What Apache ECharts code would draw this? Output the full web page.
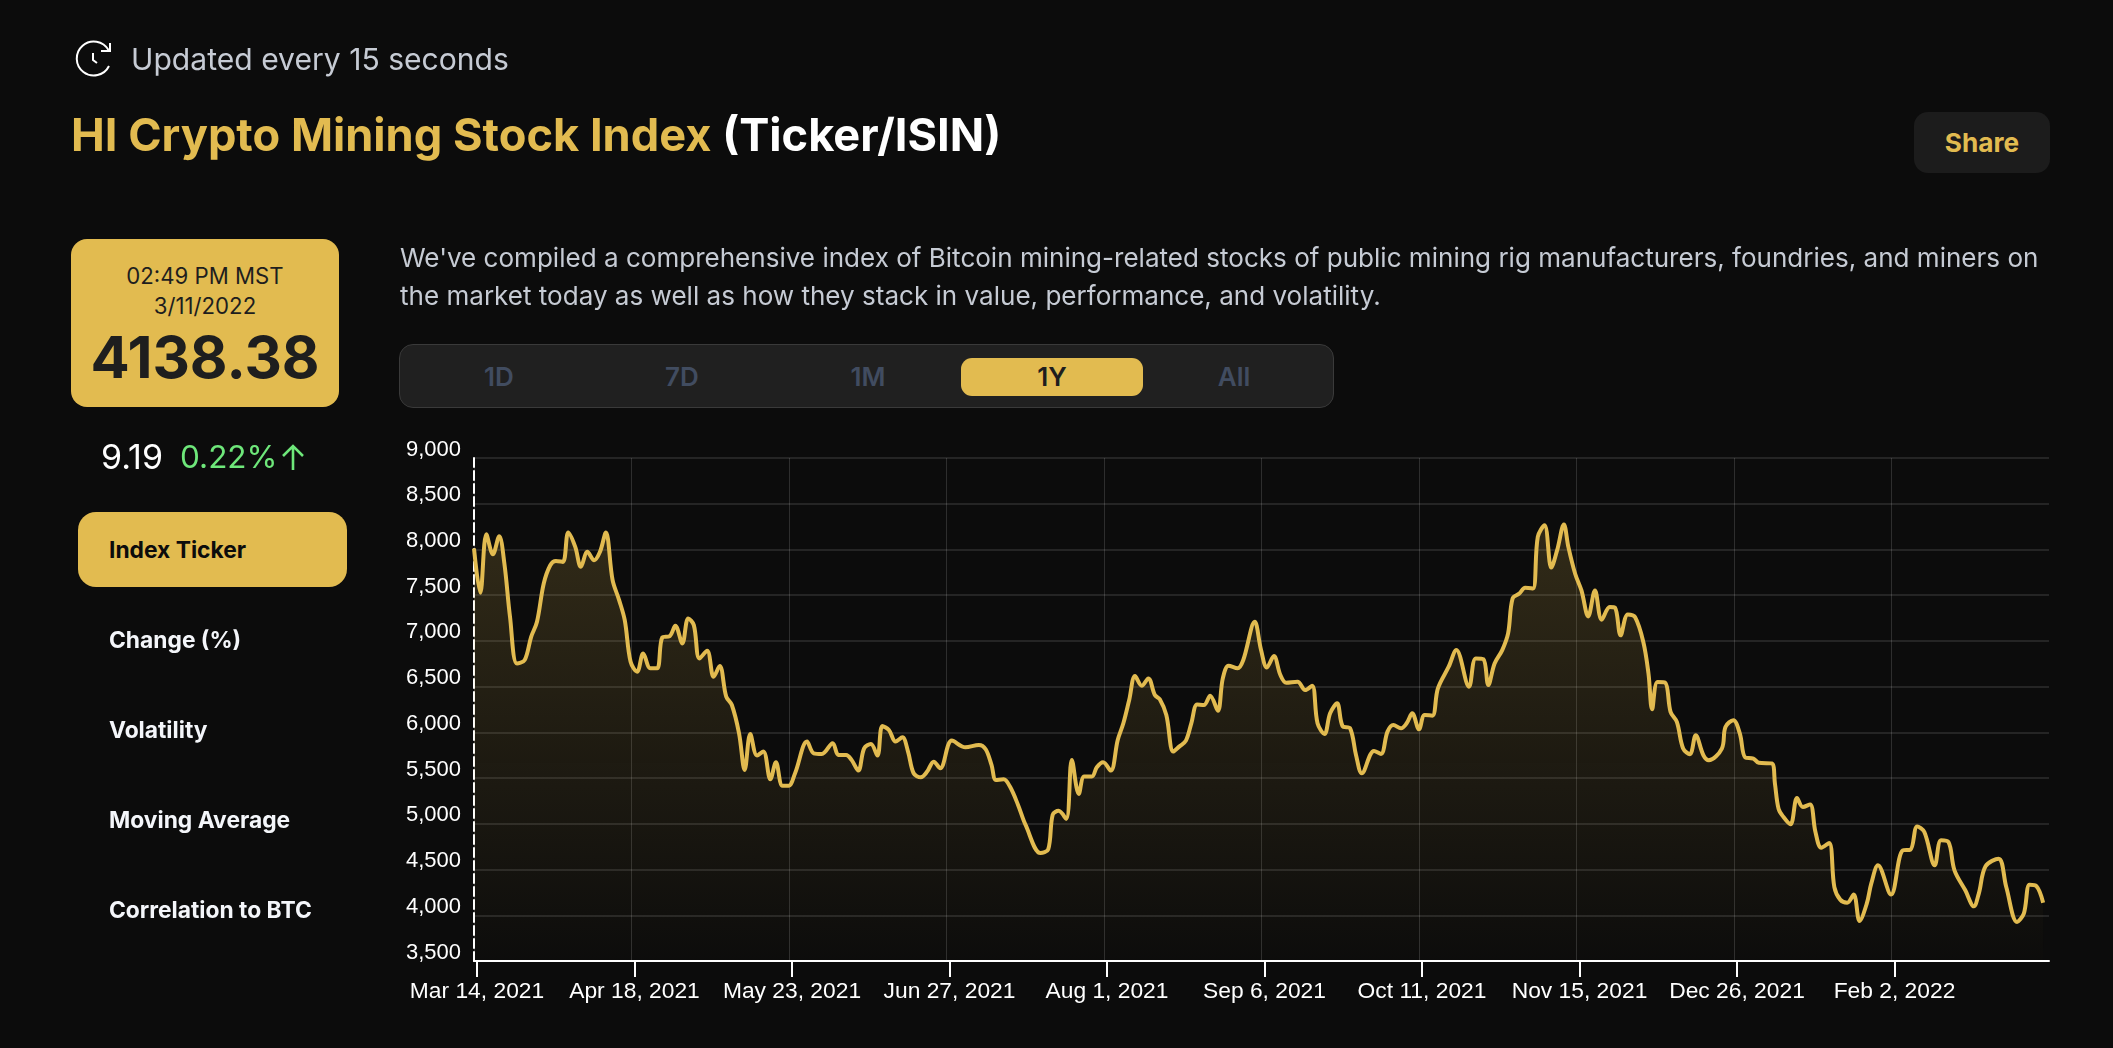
<!DOCTYPE html>
<html><head><meta charset="utf-8">
<script src="https://cdn.jsdelivr.net/npm/echarts@6/dist/echarts.min.js"></script>
<style>
html,body{margin:0;padding:0;background:#0c0c0c;width:2113px;height:1048px;overflow:hidden;font-family:Inter,sans-serif}
#chart{position:absolute;left:0;top:0;width:2113px;height:1048px}
.t{position:absolute;white-space:nowrap;line-height:1}
.c{transform:translate(-50%,-50%)}
.m{transform:translateY(-50%)}
.box{position:absolute}
</style></head><body>
<div id="chart"></div>
<svg class="box" style="left:74px;top:39px" width="40" height="40" viewBox="0 0 40 40" fill="none" stroke="#fff" stroke-width="2">
<path d="M34.5 11A17 17 0 1 0 35 27"/><path d="M36 4v8h-9"/><path d="M19 14v7l4 3"/></svg>
<div class="t m" style="left:131px;top:59px;font-size:30.1px;color:#c6cbd4">Updated every 15 seconds</div>
<div class="t m" style="left:71px;top:135px;font-size:45.2px;font-weight:700;color:#e2bb50">HI Crypto Mining Stock Index <span style="color:#fff">(Ticker/ISIN)</span></div>
<div class="box" style="left:1914px;top:112px;width:136px;height:61px;background:#1c1c1c;border-radius:14px"></div>
<div class="t c" style="left:1982px;top:143px;font-size:26.2px;font-weight:700;color:#e2bb50">Share</div>

<div class="box" style="left:71px;top:239px;width:268px;height:168px;background:#e2bb50;border-radius:16px"></div>
<div class="t c" style="left:205px;top:276px;font-size:22.2px;color:#1e1e1e">02:49 PM MST</div>
<div class="t c" style="left:205px;top:306px;font-size:22.2px;color:#1e1e1e">3/11/2022</div>
<div class="t c" style="left:205px;top:357px;font-size:58px;font-weight:700;color:#1e1e1e">4138.38</div>
<div class="t m" style="left:101px;top:457px;font-size:34px;color:#fff">9.19</div>
<div class="t m" style="left:180px;top:457px;font-size:31.5px;color:#6ee77a">0.22%</div>
<svg class="box" style="left:281px;top:443px" width="24" height="28" viewBox="0 0 24 28" fill="none" stroke="#6ee77a" stroke-width="2.6"><path d="M12 27V3M2 13L12 3l10 10"/></svg>

<div class="box" style="left:78px;top:512px;width:269px;height:75px;background:#e2bb50;border-radius:18px"></div>
<div class="t m" style="left:109px;top:550px;font-size:22.8px;font-weight:700;color:#0c0c0c">Index Ticker</div>
<div class="t m" style="left:109px;top:640px;font-size:22.8px;font-weight:700;color:#f4f6fa">Change (%)</div>
<div class="t m" style="left:109px;top:730px;font-size:22.8px;font-weight:700;color:#f4f6fa">Volatility</div>
<div class="t m" style="left:109px;top:820px;font-size:22.8px;font-weight:700;color:#f4f6fa">Moving Average</div>
<div class="t m" style="left:109px;top:910px;font-size:22.8px;font-weight:700;color:#f4f6fa">Correlation to BTC</div>

<div class="t m" style="left:400px;top:258px;font-size:26.05px;color:#c6cbd4">We've compiled a comprehensive index of Bitcoin mining-related stocks of public mining rig manufacturers, foundries, and miners on</div>
<div class="t m" style="left:400px;top:296px;font-size:26.05px;color:#c6cbd4">the market today as well as how they stack in value, performance, and volatility.</div>

<div class="box" style="left:399px;top:344px;width:933px;height:62px;background:#202020;border:1px solid #3a3a3a;border-radius:14px"></div>
<div class="box" style="left:961px;top:358px;width:182px;height:38px;background:#e2bb50;border-radius:11px"></div>
<div class="t c" style="left:499px;top:377px;font-size:26px;font-weight:600;color:#414c60">1D</div>
<div class="t c" style="left:682px;top:377px;font-size:26px;font-weight:600;color:#414c60">7D</div>
<div class="t c" style="left:868px;top:377px;font-size:26px;font-weight:600;color:#414c60">1M</div>
<div class="t c" style="left:1052px;top:377px;font-size:26px;font-weight:600;color:#1e1e1e">1Y</div>
<div class="t c" style="left:1234px;top:377px;font-size:26px;font-weight:600;color:#414c60">All</div>

<script>
const tickSlots = [0,35,70,105,140,175,210,245,280,315];
const tickLabels = ["Mar 14, 2021","Apr 18, 2021","May 23, 2021","Jun 27, 2021","Aug 1, 2021","Sep 6, 2021","Oct 11, 2021","Nov 15, 2021","Dec 26, 2021","Feb 2, 2022"];
const yMin = 3500, yMax = 9000, yStep = 500;
const slots = [0,1.4,2.75,4.2,5.6,6.75,8,9.55,11.25,12.7,14,15.5,16.95,18.2,19.75,20.95,22.5,23.75,25.2,26.7,28,29.3,30.8,32.25,33.5,34.8,36.25,37.6,39.2,40.7,41.85,43.5,44.75,46.3,47.6,48.85,50.1,51.8,53.25,54.6,56.05,57.3,58.9,60.15,61.4,62.9,64.3,65.85,67.1,68.55,69.9,71.35,74,75.5,77.3,79.7,81,82.7,83.9,85.4,86.7,88.2,89.65,90.75,92.2,93.7,95.2,96.45,97.7,99.3,100.7,102.15,103.6,106.2,109.2,112.2,113.7,115,116,117.7,119.1,120.9,122.6,125.9,127.6,128.6,129.9,131.6,132.85,134.4,135.6,137.3,138.4,139.8,141.5,143.05,144.3,145.6,146.9,148.4,149.85,151.3,152.4,153.85,155.4,156.7,158.2,159.4,160.7,162.2,163.6,165.3,166.4,167.7,169.7,170.95,173.5,174.9,176.2,177.75,179.2,180.5,183,184.7,186.25,187.45,189,190.25,191.8,193,194.7,196,197.3,200,201.55,203,204.3,206,207.25,208.5,210,211.25,212.95,214.2,216.6,218.3,221.1,222.6,224.3,225.4,226.8,228.5,229.8,230.8,232.3,233.6,235.3,236.4,237.9,239.4,240.7,242.2,243.2,244.7,246.1,247.6,249.1,250.6,252.4,253.55,254.8,256.4,258,259.85,261,261.8,263,264.7,265.9,267.3,268.7,270.2,271.5,273.2,274.4,277.3,278.1,279.85,281.3,282.5,284.3,285.5,288.4,289.1,289.9,291,292.55,294,295.3,296.9,298.1,299.4,301.15,302.3,303.6,305.15,306.6,307.9,309.5,310.5,312,314.9,317.5,319.2,320.7,322.3,324.6,326,327.65,329,331.4,333.3,334.4,335.9,338.8,340.5,342.9,344.4,345.7,347.2,348.7];
const values = [8010,7526,8166,7948,8145,7846,7264,6754,6790,7045,7209,7628,7828,7875,7864,8185,8028,7810,7974,7883,7974,8185,7664,7446,7227,6772,6663,6863,6700,6700,7038,7053,7165,6973,7246,7173,6809,6892,6608,6725,6390,6299,5990,5589,5982,5746,5790,5487,5673,5415,5415,5553,5899,5771,5764,5881,5753,5753,5699,5582,5826,5873,5746,6070,6026,5899,5946,5790,5553,5509,5571,5680,5608,5910,5837,5862,5815,5644,5480,5487,5407,5207,4985,4680,4720,5100,5142,5054,5699,5327,5517,5517,5618,5673,5582,5917,6099,6354,6616,6510,6590,6408,6361,6190,5790,5844,5910,6099,6306,6299,6401,6237,6590,6729,6700,6791,7209,6900,6710,6834,6627,6543,6554,6463,6510,6099,5982,6208,6317,6070,6044,5753,5553,5797,5764,6008,6081,6044,6099,6208,6033,6190,6183,6481,6718,6900,6499,6809,6801,6517,6754,6900,7082,7464,7518,7580,7573,8137,8265,7802,7992,8273,8025,7734,7552,7268,7552,7232,7370,7363,7061,7290,7261,6988,6642,6253,6551,6544,6224,6114,5823,5761,5969,5750,5696,5823,6060,6133,5987,5725,5714,5667,5660,5438,5165,5074,4994,5281,5183,5212,4910,4739,4790,4309,4171,4138,4226,3938,4127,4346,4546,4226,4710,4717,4972,4910,4546,4819,4801,4491,4273,4098,4237,4535,4619,4309,3927,4018,4335,4320,4138];
const gold = '#e2bb50';
const chart = echarts.init(document.getElementById('chart'), null, {renderer:'canvas'});
const labelFont = {color:'#fff', fontFamily:'"Liberation Sans",Arial,sans-serif'};
chart.setOption({
  animation:false,
  backgroundColor:'transparent',
  grid:[{left:474,top:458,width:1575,height:503},{left:477,top:458,width:1575,height:503}],
  xAxis:[
    {type:'value',gridIndex:0,min:0,max:350,interval:35,
     axisLine:{show:true,onZero:false,lineStyle:{color:'#fff',width:2}},
     axisTick:{show:false,customValues:tickSlots},axisLabel:{show:false},
     splitLine:{show:true,lineStyle:{color:'rgba(255,255,255,0.14)',width:1}}},
    {type:'value',gridIndex:1,min:0,max:350,interval:35,
     axisLine:{show:false},
     axisTick:{show:true,length:16,customValues:tickSlots,lineStyle:{color:'#fff',width:2}},
     axisLabel:Object.assign({show:true,margin:19,fontSize:22.8,customValues:tickSlots,hideOverlap:false,
       formatter:v=>tickLabels[tickSlots.indexOf(v)]||''},labelFont),
     splitLine:{show:false}}
  ],
  yAxis:[
    {type:'value',gridIndex:0,min:yMin,max:yMax,interval:yStep,
     axisLine:{show:true,onZero:false,lineStyle:{color:'#fff',width:2,type:[9,4]}},
     axisTick:{show:false},
     axisLabel:Object.assign({margin:13,fontSize:22,verticalAlign:'bottom',lineHeight:17,formatter:v=>v.toLocaleString('en-US')},labelFont),
     splitLine:{show:true,lineStyle:{color:'rgba(255,255,255,0.14)',width:1.6}}},
    {type:'value',gridIndex:1,min:yMin,max:yMax,show:false}
  ],
  series:[{type:'line',xAxisIndex:0,yAxisIndex:0,
    data:slots.map((s,i)=>[s,values[i]]),
    smooth:0.35,showSymbol:false,symbol:'none',
    lineStyle:{color:gold,width:4},
    areaStyle:{origin:'start',color:{type:'linear',x:0,y:0,x2:0,y2:1,
      colorStops:[{offset:0,color:'rgba(226,187,80,0.25)'},{offset:1,color:'rgba(226,187,80,0.01)'}]}}
  }]
});
</script>
</body></html>
